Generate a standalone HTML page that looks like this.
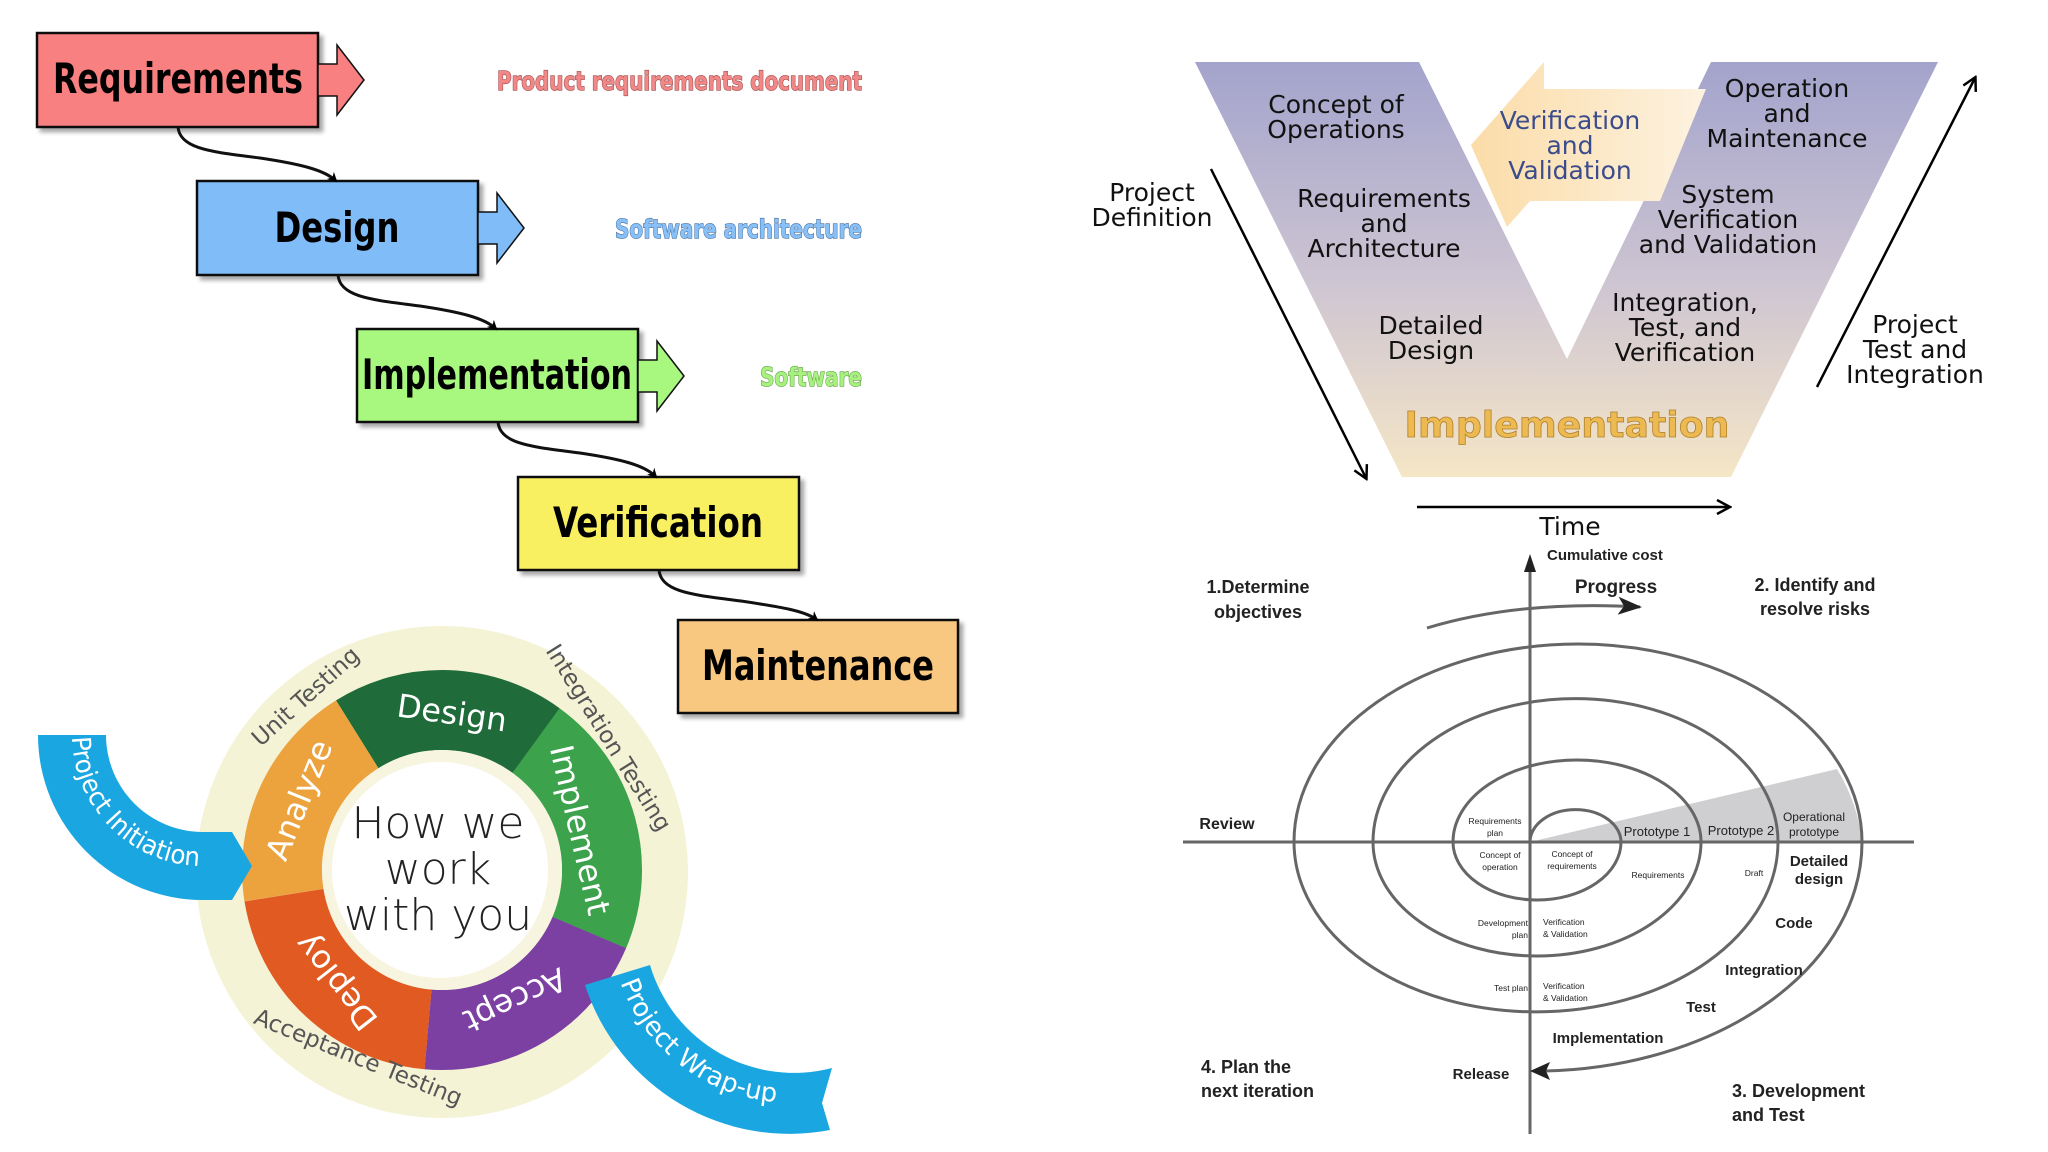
<!DOCTYPE html>
<html><head><meta charset="utf-8"><style>
html,body{margin:0;padding:0;background:#fff;}
svg{display:block;}
.wf{font-family:"DejaVu Sans Condensed","DejaVu Sans","Liberation Sans",sans-serif;font-weight:bold;}
.v{font-family:"DejaVu Sans","Liberation Sans",sans-serif;font-size:25px;fill:#111;text-anchor:middle;}
.sp{font-family:"Liberation Sans",sans-serif;fill:#222;font-weight:bold;}
.cw{font-family:"DejaVu Sans","Liberation Sans",sans-serif;}
</style></head><body>
<svg width="2048" height="1152" viewBox="0 0 2048 1152" xmlns="http://www.w3.org/2000/svg">
<defs>
<marker id="ah" markerWidth="10" markerHeight="10" refX="8" refY="5" orient="auto" markerUnits="userSpaceOnUse"><path d="M0,0 L10,5 L0,10 L3,5 Z" fill="#000"/></marker>
<marker id="ao" markerWidth="16" markerHeight="16" refX="13" refY="8" orient="auto" markerUnits="userSpaceOnUse"><path d="M1,1 L14,8 L1,15" fill="none" stroke="#000" stroke-width="2.5"/></marker>
<marker id="ag" markerWidth="24" markerHeight="18" refX="22" refY="9" orient="auto" markerUnits="userSpaceOnUse"><path d="M0,0 L24,9 L0,18 L6,9 Z" fill="#222"/></marker>
<linearGradient id="vg" x1="0" y1="62" x2="0" y2="477" gradientUnits="userSpaceOnUse"><stop offset="0" stop-color="#a3a3cc"/><stop offset="0.55" stop-color="#cfc6d2"/><stop offset="1" stop-color="#f5e6c6"/></linearGradient>
<linearGradient id="ag1" x1="1471" y1="0" x2="1710" y2="0" gradientUnits="userSpaceOnUse"><stop offset="0" stop-color="#fbdca8"/><stop offset="1" stop-color="#fdf3e2"/></linearGradient>
<filter id="sh" x="-10%" y="-10%" width="130%" height="130%"><feDropShadow dx="4" dy="4" stdDeviation="2" flood-color="#000" flood-opacity="0.35"/></filter>
<path id="pi" d="M72,735 A131,131 0 0 0 203,866"/>
<path id="pw" d="M618,975 A180,180 0 0 0 830,1098"/>
</defs>

<!-- WATERFALL -->
<g class="wf">
<g filter="url(#sh)">
<rect x="37" y="33" width="281" height="94" fill="#f88080" stroke="#111" stroke-width="2.5"/>
<rect x="197" y="181" width="281" height="94" fill="#80bcf8" stroke="#111" stroke-width="2.5"/>
<rect x="357" y="329" width="281" height="93" fill="#a8f880" stroke="#111" stroke-width="2.5"/>
<rect x="518" y="477" width="281" height="93" fill="#f8f060" stroke="#111" stroke-width="2.5"/>
<rect x="678" y="620" width="280" height="93" fill="#f8c880" stroke="#111" stroke-width="2.5"/>
</g>
<path d="M318,64 L337,64 L337,45 L364,80 L337,115 L337,96 L318,96 Z" fill="#f88080" stroke="#111" stroke-width="1.5"/>
<path d="M478,212 L497,212 L497,193 L524,228 L497,263 L497,244 L478,244 Z" fill="#80bcf8" stroke="#111" stroke-width="1.5"/>
<path d="M638,360 L657,360 L657,341 L684,376 L657,411 L657,392 L638,392 Z" fill="#a8f880" stroke="#111" stroke-width="1.5"/>
<g fill="none" stroke="#111" stroke-width="3" marker-end="url(#ah)">
<path d="M178,127 C180,150 215,152 260,158 C300,164 325,170 336,181"/>
<path d="M338,275 C340,298 375,300 420,306 C460,312 485,318 496,329"/>
<path d="M498,422 C500,445 535,447 580,453 C620,459 645,465 656,477"/>
<path d="M659,570 C661,593 696,595 741,601 C781,607 806,611 817,620"/>
</g>
<g font-size="42" fill="#000" text-anchor="middle">
<text x="178" y="93" textLength="250" lengthAdjust="spacingAndGlyphs">Requirements</text>
<text x="337" y="242" textLength="125" lengthAdjust="spacingAndGlyphs">Design</text>
<text x="497" y="389" textLength="270" lengthAdjust="spacingAndGlyphs">Implementation</text>
<text x="658" y="537" textLength="210" lengthAdjust="spacingAndGlyphs">Verification</text>
<text x="818" y="680" textLength="232" lengthAdjust="spacingAndGlyphs">Maintenance</text>
</g>
<g font-size="26" stroke-width="1.2" paint-order="stroke">
<text x="497" y="90" textLength="365" lengthAdjust="spacingAndGlyphs" fill="#f08888" stroke="#a04848">Product requirements document</text>
<text x="615" y="238" textLength="247" lengthAdjust="spacingAndGlyphs" fill="#88c0f8" stroke="#4870a0">Software architecture</text>
<text x="760" y="386" textLength="102" lengthAdjust="spacingAndGlyphs" fill="#a8f080" stroke="#60a040">Software</text>
</g>
</g>

<!-- CIRCLE -->
<circle cx="442" cy="872" r="246" fill="#f5f3d6"/>
<g fill="none" stroke-width="80">
<circle cx="442" cy="870" r="160" stroke="#1f6b3a" stroke-dasharray="190 1100" transform="rotate(238 442 870)"/>
<circle cx="442" cy="870" r="160" stroke="#3ca24c" stroke-dasharray="215 1100" transform="rotate(-54 442 870)"/>
<circle cx="442" cy="870" r="160" stroke="#7b40a2" stroke-dasharray="201 1100" transform="rotate(23 442 870)"/>
<circle cx="442" cy="870" r="160" stroke="#e05a22" stroke-dasharray="212 1100" transform="rotate(95 442 870)"/>
<circle cx="442" cy="870" r="160" stroke="#eca33e" stroke-dasharray="187 1100" transform="rotate(171 442 870)"/>
</g>
<circle cx="442" cy="870" r="120" fill="#f7f5e0"/>
<circle cx="440" cy="870" r="108" fill="#fff"/>
<g class="cw" font-size="44" fill="#222" text-anchor="middle" font-weight="300">
<text x="438" y="838">How we</text><text x="438" y="884">work</text><text x="438" y="930">with you</text>
</g>
<g class="cw" font-size="32" fill="#fff" text-anchor="middle" dominant-baseline="central">
<text transform="translate(452,713) rotate(8)">Design</text>
<text transform="translate(580,830) rotate(77)">Implement</text>
<text transform="translate(515,1000) rotate(155)">Accept</text>
<text transform="translate(336,982) rotate(232)">Deploy</text>
<text transform="translate(299,800) rotate(-68)">Analyze</text>
</g>
<g class="cw" font-size="23" fill="#555" text-anchor="middle" dominant-baseline="central">
<text transform="translate(306,697) rotate(-42)">Unit Testing</text>
<text transform="translate(608,738) rotate(58)">Integration Testing</text>
<text transform="translate(358,1058) rotate(22)">Acceptance Testing</text>
</g>
<path d="M38,735 A165,165 0 0 0 203,900 L232,900 L252,866 L232,832 L203,832 A97,97 0 0 1 106,735 Z" fill="#1aa6e0"/>
<path d="M585,985 A215,215 0 0 0 830,1130 L822,1103 L832,1068 A150,150 0 0 1 650,965 Z" fill="#1aa6e0"/>
<g class="cw" font-size="26" fill="#fff">
<text><textPath href="#pi" startOffset="2" textLength="200" lengthAdjust="spacingAndGlyphs">Project Initiation</textPath></text>
<text><textPath href="#pw" startOffset="8">Project Wrap-up</textPath></text>
</g>

<!-- V MODEL -->
<path d="M1195,62 L1419,62 L1567,359 L1711,62 L1938,62 L1731,477 L1402,477 Z" fill="url(#vg)"/>
<path d="M1471,145 L1544,62 L1544,89 L1706,89 L1660,201 L1530,201 L1507,227 Z" fill="url(#ag1)"/>
<text class="v" x="1336" y="113">Concept of</text><text class="v" x="1336" y="138">Operations</text>
<g class="v"><text x="1570" y="129" fill="#3b4c8c">Verification</text><text x="1570" y="154" fill="#3b4c8c">and</text><text x="1570" y="179" fill="#3b4c8c">Validation</text></g>
<text class="v" x="1787" y="97">Operation</text><text class="v" x="1787" y="122">and</text><text class="v" x="1787" y="147">Maintenance</text>
<text class="v" x="1384" y="207">Requirements</text><text class="v" x="1384" y="232">and</text><text class="v" x="1384" y="257">Architecture</text>
<text class="v" x="1728" y="203">System</text><text class="v" x="1728" y="228">Verification</text><text class="v" x="1728" y="253">and Validation</text>
<text class="v" x="1431" y="334">Detailed</text><text class="v" x="1431" y="359">Design</text>
<text class="v" x="1685" y="311">Integration,</text><text class="v" x="1685" y="336">Test, and</text><text class="v" x="1685" y="361">Verification</text>
<text class="v" x="1152" y="201">Project</text><text class="v" x="1152" y="226">Definition</text>
<text class="v" x="1915" y="333">Project</text><text class="v" x="1915" y="358">Test and</text><text class="v" x="1915" y="383">Integration</text>
<text x="1567" y="437" font-family="DejaVu Sans,sans-serif" font-weight="bold" font-size="36" fill="#ecba50" stroke="#b08030" stroke-width="0.8" text-anchor="middle" textLength="325" lengthAdjust="spacingAndGlyphs">Implementation</text>
<g stroke="#000" stroke-width="2.5" fill="none" marker-end="url(#ao)">
<line x1="1211" y1="169" x2="1366" y2="478"/>
<line x1="1817" y1="387" x2="1975" y2="78"/>
<line x1="1417" y1="507" x2="1729" y2="507"/>
</g>
<text class="v" x="1570" y="535">Time</text>

<!-- SPIRAL -->
<path d="M1837,769 L1530,842 L1862,842 A327,229 0 0 0 1837,769 Z" fill="#cfcfd2"/>
<g stroke="#666" stroke-width="3" fill="none">
<line x1="1530" y1="562" x2="1530" y2="1134"/>
<line x1="1183" y1="842" x2="1914" y2="842"/>
<path d="M1530,842 A45,32 0 0 1 1621,842 A84,58 0 0 1 1453,842 A124,82 0 0 1 1701,842 A164,114 0 0 1 1373,842 A202,143 0 0 1 1778,842 A242,170 0 0 1 1294,842 A284,198 0 0 1 1862,842 A327,229 0 0 1 1545,1071"/>
</g>
<path d="M1530,1071 L1550,1062 L1546,1071 L1550,1080 Z" fill="#222"/>
<polygon points="1530,554 1524,572 1536,572" fill="#222"/>
<path d="M1427,628 Q1520,600 1640,607" fill="none" stroke="#666" stroke-width="3" marker-end="url(#ag)"/>
<g class="sp">
<text x="1547" y="560" font-size="15">Cumulative cost</text>
<text x="1616" y="593" font-size="19" text-anchor="middle">Progress</text>
<text x="1258" y="593" font-size="18" text-anchor="middle">1.Determine</text><text x="1258" y="618" font-size="18" text-anchor="middle">objectives</text>
<text x="1815" y="591" font-size="18" text-anchor="middle">2. Identify and</text><text x="1815" y="615" font-size="18" text-anchor="middle">resolve risks</text>
<text x="1227" y="829" font-size="16" text-anchor="middle">Review</text>
<g font-size="8.5" text-anchor="middle" font-weight="normal">
<text x="1495" y="824">Requirements</text><text x="1495" y="836">plan</text>
<text x="1500" y="858">Concept of</text><text x="1500" y="870">operation</text>
<text x="1572" y="857">Concept of</text><text x="1572" y="869">requirements</text>
<text x="1658" y="878">Requirements</text>
<text x="1754" y="876">Draft</text>
</g>
<g font-size="8.5" font-weight="normal">
<text x="1528" y="926" text-anchor="end">Development</text><text x="1528" y="938" text-anchor="end">plan</text>
<text x="1543" y="925">Verification</text><text x="1543" y="937">&amp; Validation</text>
<text x="1528" y="991" text-anchor="end">Test plan</text>
<text x="1543" y="989">Verification</text><text x="1543" y="1001">&amp; Validation</text>
</g>
<text x="1657" y="836" font-size="13" text-anchor="middle" font-weight="normal">Prototype 1</text>
<text x="1741" y="835" font-size="13" text-anchor="middle" font-weight="normal">Prototype 2</text>
<text x="1814" y="821" font-size="12" text-anchor="middle" font-weight="normal">Operational</text><text x="1814" y="836" font-size="12" text-anchor="middle" font-weight="normal">prototype</text>
<text x="1819" y="866" font-size="15" text-anchor="middle">Detailed</text><text x="1819" y="884" font-size="15" text-anchor="middle">design</text>
<text x="1794" y="928" font-size="15" text-anchor="middle">Code</text>
<text x="1764" y="975" font-size="15" text-anchor="middle">Integration</text>
<text x="1701" y="1012" font-size="15" text-anchor="middle">Test</text>
<text x="1608" y="1043" font-size="15" text-anchor="middle">Implementation</text>
<text x="1481" y="1079" font-size="15" text-anchor="middle">Release</text>
<text x="1201" y="1073" font-size="18">4. Plan the</text><text x="1201" y="1097" font-size="18">next iteration</text>
<text x="1732" y="1097" font-size="18">3. Development</text><text x="1732" y="1121" font-size="18">and Test</text>
</g>
</svg>
</body></html>
